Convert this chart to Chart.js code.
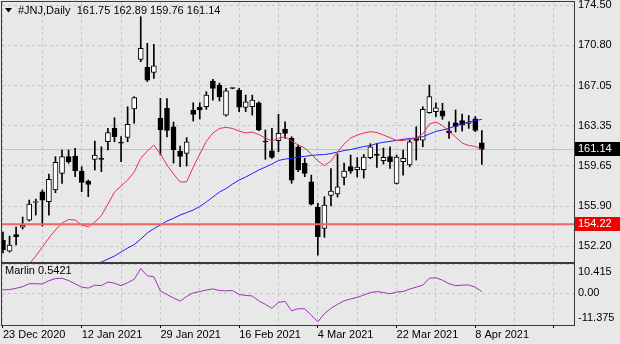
<!DOCTYPE html>
<html>
<head>
<meta charset="utf-8">
<script src="https://cdn.jsdelivr.net/npm/chart.js@4.4.0/dist/chart.umd.min.js"></script>
<style>
  html, body { margin: 0; padding: 0; background: #e8e8e8; }
  #wrap { position: relative; width: 620px; height: 344px; overflow: hidden; }
  canvas { position: absolute; left: 0; }
  #priceChart { top: 0; }
  #marlinChart { top: 263px; }
</style>
</head>
<body>
<div id="wrap">
  <canvas id="priceChart" width="620" height="263"></canvas>
  <canvas id="marlinChart" width="620" height="81"></canvas>
</div>
<script>
// #JNJ daily bars, index 0 = 23 Dec 2020
const opens = [152.76, 151.74, 153.27, 153.96, 154.61, 156.23, 157.23, 156.30, 157.39, 158.93,
  160.47, 160.53, 159.14, 158.22, 160.23, 160.32, 161.85, 163.09, 161.78, 162.26,
  164.88, 169.48, 168.74, 168.27, 164.05, 164.97, 163.24, 160.99, 160.78, 164.79,
  165.06, 165.09, 167.47, 167.10, 164.32, 166.79, 166.64, 165.04, 165.09, 165.46,
  161.89, 161.02, 161.95, 163.03, 162.17, 161.39, 159.86, 158.15, 155.79, 153.84,
  156.88, 157.02, 158.56, 159.56, 159.28, 159.28, 160.39, 160.65, 160.10, 160.49,
  158.01, 160.00, 159.70, 162.15, 162.01, 164.54, 164.63, 164.72, 162.87, 163.61,
  163.80, 163.54, 163.98, 161.75];
const highs = [153.50, 153.13, 153.96, 154.89, 156.46, 156.55, 157.39, 158.87, 160.47, 161.09,
  161.09, 161.24, 159.54, 158.31, 161.92, 161.39, 163.09, 164.07, 162.32, 165.09,
  166.02, 173.42, 170.96, 170.86, 165.87, 165.85, 163.68, 161.46, 162.24, 165.46,
  165.46, 166.48, 167.63, 167.28, 166.79, 166.82, 166.79, 166.17, 166.17, 165.55,
  162.94, 163.09, 164.39, 163.70, 162.32, 161.55, 160.32, 158.77, 156.16, 156.77,
  159.38, 160.72, 159.88, 160.62, 160.39, 160.67, 161.67, 161.69, 161.27, 161.39,
  160.62, 161.09, 162.01, 163.24, 165.09, 167.10, 165.46, 165.41, 163.70, 164.79,
  164.42, 164.28, 164.19, 162.89];
const lows = [151.56, 151.65, 152.30, 153.78, 154.52, 155.07, 154.06, 155.07, 157.14, 158.01,
  159.86, 158.62, 157.23, 156.77, 159.24, 159.08, 161.09, 161.85, 160.00, 161.85,
  163.56, 169.25, 167.41, 167.72, 160.62, 162.29, 159.88, 159.54, 159.61, 163.77,
  163.95, 164.85, 165.71, 165.62, 164.23, 166.75, 164.63, 164.63, 164.32, 162.87,
  160.23, 160.32, 160.93, 162.17, 158.01, 159.08, 158.62, 156.00, 151.37, 153.01,
  155.91, 156.74, 157.85, 158.93, 158.59, 158.50, 160.28, 159.47, 159.79, 159.39,
  157.94, 158.77, 159.54, 160.16, 161.39, 164.48, 164.17, 163.93, 162.17, 162.75,
  162.84, 163.09, 162.78, 159.76];
const closes = [151.84, 152.30, 153.08, 154.15, 156.09, 156.28, 156.46, 158.38, 159.95, 160.47,
  160.00, 159.17, 158.10, 157.91, 160.62, 160.23, 162.69, 162.32, 161.73, 163.46,
  165.93, 170.49, 167.56, 168.88, 162.94, 162.89, 161.13, 160.49, 161.85, 164.39,
  164.79, 166.17, 166.79, 166.02, 166.57, 166.78, 165.06, 165.55, 165.71, 162.94,
  161.83, 160.41, 162.63, 162.63, 158.31, 159.24, 158.93, 156.09, 153.07, 156.00,
  157.29, 157.69, 159.14, 159.14, 159.51, 160.44, 161.39, 160.60, 160.41, 160.00,
  160.44, 160.32, 161.85, 161.97, 164.85, 166.02, 165.00, 164.23, 162.66, 163.28,
  163.40, 163.68, 162.89, 161.14];

// moving averages (red = fast, blue = slow)
const maFast = [147.21, 147.95, 148.88, 149.80, 150.54, 151.28, 152.11, 152.95, 153.69, 154.33,
  154.66, 154.61, 154.15, 153.99, 154.43, 155.03, 156.09, 157.20, 157.76, 158.31,
  159.05, 160.32, 160.99, 161.55, 160.72, 159.70, 158.87, 158.13, 158.15, 159.51,
  160.70, 161.90, 162.66, 163.08, 163.19, 163.08, 162.84, 162.66, 162.75, 162.52,
  162.20, 161.92, 162.17, 162.32, 161.92, 161.55, 161.27, 160.72, 160.07, 159.65,
  160.07, 160.90, 161.64, 162.20, 162.47, 162.66, 162.78, 162.71, 162.47, 162.24,
  161.97, 161.97, 162.06, 162.20, 162.57, 163.49, 163.68, 163.35, 162.84, 162.29,
  161.73, 161.50, 161.43, 161.15];
const maSlow = [null, null, null, null, null, null, null, null, null, null,
  null, null, 149.89, 150.17, 150.45, 150.73, 151.00, 151.28, 151.65, 152.02,
  152.34, 152.85, 153.41, 153.82, 154.15, 154.52, 154.77, 155.07, 155.30, 155.54,
  155.86, 156.28, 156.74, 157.20, 157.52, 157.94, 158.31, 158.59, 158.91, 159.24,
  159.51, 159.79, 160.12, 160.25, 160.32, 160.44, 160.50, 160.58, 160.64, 160.67,
  160.76, 160.90, 161.04, 161.13, 161.27, 161.41, 161.50, 161.69, 161.80, 161.89,
  161.98, 162.08, 162.15, 162.21, 162.32, 162.57, 162.80, 162.94, 163.09, 163.31,
  163.49, 163.68, 163.80, 163.93];

const marlin = [1.17, 1.28, 1.73, 2.33, 3.38, 3.38, 3.28, 4.44, 5.21, 5.32,
  4.51, 3.31, 2.15, 1.80, 2.86, 2.68, 3.98, 3.56, 2.68, 3.74,
  4.97, 8.76, 6.20, 5.85, 0.75, -0.48, -1.71, -2.84, -1.18, 0.12,
  0.57, 1.10, 1.52, 0.92, 0.82, 0.92, -0.48, -0.83, -1.01, -2.77,
  -3.99, -5.40, -3.29, -2.94, -6.28, -5.58, -5.58, -7.86, -10.22, -7.33,
  -5.40, -3.99, -2.77, -2.06, -1.54, -0.66, 0.22, 0.57, 0.22, -0.23,
  0.40, 0.57, 1.45, 2.15, 2.86, 5.32, 5.49, 4.62, 3.38, 2.68,
  2.86, 2.93, 2.15, 0.5421];

const priceTicks = [174.50, 170.80, 167.05, 163.35, 159.65, 155.90, 152.20];
const marlinTicks = [10.415, 0, -11.375];
const marlinTickLabels = ['10.415', '0.00', '-11.375'];
const dateLabels = ['23 Dec 2020', '12 Jan 2021', '29 Jan 2021', '16 Feb 2021', '4 Mar 2021', '22 Mar 2021', '8 Apr 2021'];
const supportLevel = 154.22;

const FONT = '11px "Liberation Sans", Arial, sans-serif';
Chart.defaults.font.family = '"Liberation Sans", Arial, sans-serif';
Chart.defaults.font.size = 11;
Chart.defaults.color = '#000';

const last = closes.length - 1;
const xMin = -0.15, xMax = 87.05;
const gridTicks = [];
for (let i = 0; i <= 84; i += 6) gridTicks.push(i);

// keep the axes from reserving room for half-labels at the ends
function noEdgePadding(s) {
  s.paddingTop = 0;
  s.paddingBottom = 0;
  s.paddingLeft = 0;
  s.paddingRight = 0;
}

function frame(ctx, a) {
  ctx.save();
  ctx.strokeStyle = '#3a3a3a';
  ctx.lineWidth = 1;
  ctx.strokeRect(a.left - 0.5, a.top - 0.5, a.right - a.left + 1, a.bottom - a.top + 1);
  ctx.restore();
}

function priceTag(ctx, a, py, text, bg) {
  ctx.save();
  ctx.fillStyle = bg;
  ctx.fillRect(a.right + 1, Math.round(py) - 7, 46, 14);
  ctx.fillStyle = '#fff';
  ctx.font = FONT;
  ctx.textBaseline = 'middle';
  ctx.fillText(text, a.right + 4, py);
  ctx.restore();
}

const priceOverlay = {
  id: 'priceOverlay',
  beforeDatasetsDraw(chart) {
    const {ctx, chartArea: a, scales: {y}} = chart;
    const py = Math.round(y.getPixelForValue(closes[last])) + 0.5;
    ctx.save();
    ctx.strokeStyle = '#c2c2c2';
    ctx.lineWidth = 1;
    ctx.beginPath();
    ctx.moveTo(a.left, py);
    ctx.lineTo(a.right, py);
    ctx.stroke();
    ctx.restore();
  },
  afterDatasetsDraw(chart) {
    const {ctx, chartArea: a, scales: {y}} = chart;
    const py = y.getPixelForValue(supportLevel);
    ctx.save();
    ctx.strokeStyle = '#f06464';
    ctx.lineWidth = 2;
    ctx.beginPath();
    ctx.moveTo(a.left, py);
    ctx.lineTo(a.right, py);
    ctx.stroke();
    ctx.restore();
  },
  afterDraw(chart) {
    const {ctx, chartArea: a, scales: {y}} = chart;
    frame(ctx, a);
    priceTag(ctx, a, y.getPixelForValue(closes[last]), closes[last].toFixed(2), '#000');
    priceTag(ctx, a, y.getPixelForValue(supportLevel), supportLevel.toFixed(2), '#f00000');

    // symbol header
    ctx.save();
    ctx.fillStyle = '#000';
    ctx.beginPath();
    ctx.moveTo(5, 8);
    ctx.lineTo(12, 8);
    ctx.lineTo(8.5, 12.5);
    ctx.closePath();
    ctx.fill();
    ctx.font = FONT;
    ctx.textBaseline = 'middle';
    const ohlc = [opens[last], highs[last], lows[last], closes[last]].map(v => v.toFixed(2)).join(' ');
    ctx.fillText('#JNJ,Daily  ' + ohlc, 18, 10.5);
    ctx.restore();
  }
};

new Chart(document.getElementById('priceChart'), {
  data: {
    datasets: [
      {
        type: 'line', label: 'MA fast', order: 0,
        data: maFast.map((v, i) => ({x: i, y: v})),
        borderColor: '#e6304e', borderWidth: 1, pointRadius: 0, tension: 0
      },
      {
        type: 'line', label: 'MA slow', order: 0,
        data: maSlow.map((v, i) => ({x: i, y: v})),
        borderColor: '#1e1eff', borderWidth: 1, pointRadius: 0, tension: 0
      },
      {
        type: 'bar', label: 'body', order: 1, grouped: false,
        data: opens.map((o, i) => ({x: i, y: [o, closes[i]]})),
        backgroundColor: c => closes[c.dataIndex] >= opens[c.dataIndex] ? '#ffffff' : '#000000',
        borderColor: '#000', borderWidth: 1, borderSkipped: false,
        barThickness: 5, minBarLength: 1
      },
      {
        type: 'bar', label: 'wick', order: 2, grouped: false,
        data: lows.map((l, i) => ({x: i, y: [l, highs[i]]})),
        backgroundColor: '#000', borderWidth: 0, barThickness: 1
      }
    ]
  },
  options: {
    responsive: false,
    animation: false,
    devicePixelRatio: 1,
    layout: {padding: {left: 2, top: 2, right: 0, bottom: 1}},
    plugins: {legend: {display: false}, tooltip: {enabled: false}},
    scales: {
      x: {
        type: 'linear', min: xMin, max: xMax, offset: false,
        afterBuildTicks: s => { s.ticks = gridTicks.map(v => ({value: v})); },
        afterFit: s => { s.height = 0; noEdgePadding(s); },
        ticks: {display: false},
        grid: {color: '#c6c6c6', drawTicks: false, offset: false},
        border: {display: false, dash: [3, 3]}
      },
      y: {
        position: 'right', min: 150.73, max: 174.78,
        afterBuildTicks: s => { s.ticks = priceTicks.map(v => ({value: v})); },
        afterFit: s => { s.width = 46; noEdgePadding(s); },
        ticks: {autoSkip: false, padding: 4, callback: v => v.toFixed(2)},
        grid: {color: '#c6c6c6', drawTicks: false},
        border: {display: false, dash: [3, 3]}
      }
    }
  },
  plugins: [priceOverlay]
});

const marlinOverlay = {
  id: 'marlinOverlay',
  afterDraw(chart) {
    const {ctx, chartArea: a, scales: {y}} = chart;
    frame(ctx, a);
    ctx.save();
    ctx.font = FONT;
    ctx.fillStyle = '#000';
    ctx.textBaseline = 'middle';
    marlinTicks.forEach((v, k) => {
      const py = Math.min(Math.max(y.getPixelForValue(v), a.top + 8), a.bottom - 7);
      ctx.fillText(marlinTickLabels[k], a.right + 4, py);
    });
    ctx.fillText('Marlin ' + marlin[last].toFixed(4), 5, a.top + 7);
    ctx.restore();
  }
};

new Chart(document.getElementById('marlinChart'), {
  type: 'line',
  data: {
    datasets: [{
      label: 'Marlin',
      data: marlin.map((v, i) => ({x: i, y: v})),
      borderColor: '#a030b4', borderWidth: 1, pointRadius: 0, tension: 0
    }]
  },
  options: {
    responsive: false,
    animation: false,
    devicePixelRatio: 1,
    layout: {padding: {left: 2, top: 1, right: 0, bottom: 0}},
    plugins: {legend: {display: false}, tooltip: {enabled: false}},
    scales: {
      x: {
        type: 'linear', min: xMin, max: xMax, offset: false,
        afterBuildTicks: s => { s.ticks = gridTicks.map(v => ({value: v})); },
        afterFit: s => { s.height = 19; noEdgePadding(s); },
        ticks: {
          autoSkip: false, maxRotation: 0, align: 'start', padding: 0,
          callback: v => (v % 12 === 0 && dateLabels[v / 12]) ? dateLabels[v / 12] : ''
        },
        grid: {
          color: '#c6c6c6', offset: false, tickLength: 3,
          tickColor: c => (c.tick && c.tick.value % 12 === 0) ? '#000' : 'rgba(0,0,0,0)'
        },
        border: {display: false, dash: [3, 3]}
      },
      y: {
        position: 'right', min: -11.375, max: 10.415,
        afterBuildTicks: s => { s.ticks = marlinTicks.map(v => ({value: v})); },
        afterFit: s => { s.width = 46; noEdgePadding(s); },
        ticks: {display: false},
        grid: {color: '#c6c6c6', drawTicks: false},
        border: {display: false, dash: [3, 3]}
      }
    }
  },
  plugins: [marlinOverlay]
});
</script>
</body>
</html>
